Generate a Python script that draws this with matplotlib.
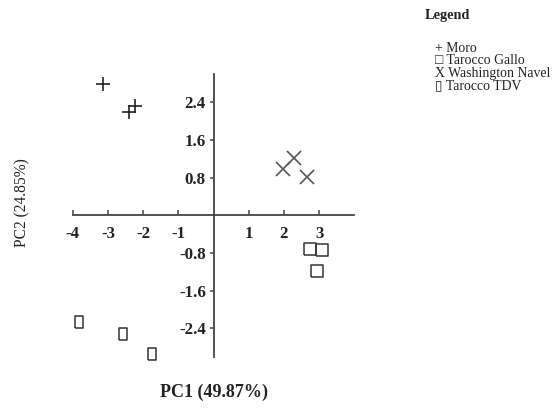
import matplotlib
matplotlib.use("Agg")
import matplotlib.pyplot as plt
import numpy as np

plt.rcParams['axes.unicode_minus'] = False
SERIF = ['Liberation Serif', 'DejaVu Serif', 'DejaVu Sans']

# ---- data ----
moro_x = [-3.13, -2.39, -2.23]
moro_y = [2.79, 2.20, 2.31]
wn_x = [1.98, 2.29, 2.65]
wn_y = [0.98, 1.22, 0.81]
tg_x = [2.74, 3.07, 2.93]
tg_y = [-0.72, -0.74, -1.19]
tdv_x = [-3.82, -2.56, -1.76]
tdv_y = [-2.27, -2.51, -2.95]

xticks = [-4, -3, -2, -1, 1, 2, 3]
yticks = [2.4, 1.6, 0.8, -0.8, -1.6, -2.4]
ytick_labels = ['2.4', '1.6', '0.8', '-0.8', '-1.6', '-2.4']
legend_items = ['+ Moro', '\u25a1 Tarocco Gallo', 'X Washington Navel', '\u25af Tarocco TDV']

W, H = 557, 409
fig = plt.figure(figsize=(W / 100, H / 100), dpi=100)
fig.patch.set_facecolor('white')

def fx(px):
    return px / W

def fy(py):
    return 1 - py / H

ax = fig.add_axes([fx(72.7), fy(356.6), (354.3 - 72.7) / W, (356.6 - 74.0) / H])
ax.set_xlim(-4, 4)
ax.set_ylim(-3, 3)
ax.patch.set_alpha(0)

for s in ['top', 'right']:
    ax.spines[s].set_visible(False)
ax.spines['left'].set_position(('data', 0))
ax.spines['bottom'].set_position(('data', 0))
axis_col = '#444444'
for s in ['left', 'bottom']:
    ax.spines[s].set_color(axis_col)
    ax.spines[s].set_linewidth(1.3)

ax.set_xticks(xticks)
ax.set_xticklabels([str(t) for t in xticks])
ax.set_yticks(yticks)
ax.set_yticklabels(ytick_labels)
ax.tick_params(axis='x', direction='in', length=3.5, width=1.1, color=axis_col, pad=7.5)
ax.tick_params(axis='y', direction='out', length=3, width=1.1, color=axis_col, pad=2.5)
for lab in ax.get_xticklabels() + ax.get_yticklabels():
    lab.set_fontfamily(SERIF)
    lab.set_fontweight('bold')
    lab.set_fontsize(12.2)
    lab.set_color('#222222')

rect_tall = [(-0.28, -0.5), (0.28, -0.5), (0.28, 0.5), (-0.28, 0.5), (-0.28, -0.5)]
rect_sq = [(-0.46, -0.5), (0.46, -0.5), (0.46, 0.5), (-0.46, 0.5), (-0.46, -0.5)]

ax.plot(moro_x, moro_y, linestyle='none', marker='+', markersize=9.5,
        markeredgewidth=1.2, color='#222222', clip_on=False)
ax.plot(wn_x, wn_y, linestyle='none', marker='x', markersize=9.5,
        markeredgewidth=1.2, color='#555555', clip_on=False)
ax.plot(tg_x, tg_y, linestyle='none', marker=rect_sq, markersize=9.3,
        markeredgewidth=1.1, markerfacecolor='none', markeredgecolor='#333333', clip_on=False)
ax.plot(tdv_x, tdv_y, linestyle='none', marker=rect_tall, markersize=9.3,
        markeredgewidth=1.1, markerfacecolor='none', markeredgecolor='#333333', clip_on=False)

# axis titles
fig.text(fx(214), fy(392), 'PC1 (49.87%)', ha='center', va='center',
         fontsize=13, fontweight='bold', family=SERIF, color='#222222')
fig.text(fx(22), fy(203), 'PC2 (24.85%)', ha='center', va='center', rotation=90,
         fontsize=11.2, family=SERIF, color='#222222')

# legend as text
fig.text(fx(425), fy(15), 'Legend', ha='left', va='center',
         fontsize=10.3, fontweight='bold', family=SERIF, color='#222222')
ys = [48, 61, 73.5, 86]
for y, t in zip(ys, legend_items):
    fig.text(fx(435), fy(y), t, ha='left', va='center',
             fontsize=9.9, family=SERIF, color='#222222')

fig.savefig('out.png', dpi=100, facecolor='white')
